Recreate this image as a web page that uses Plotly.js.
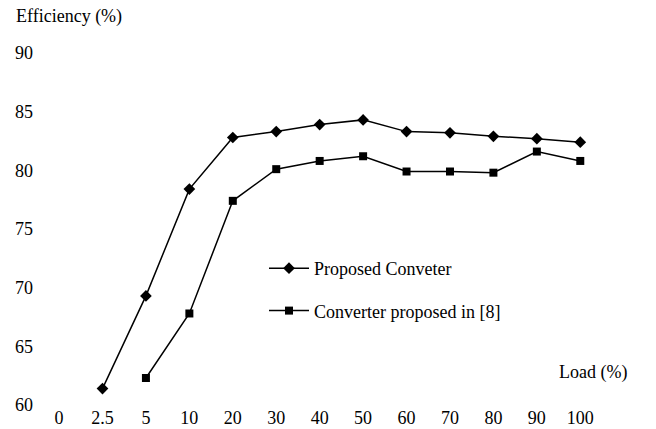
<!DOCTYPE html>
<html>
<head>
<meta charset="utf-8">
<script src="https://cdn.plot.ly/plotly-3.0.1.min.js"></script>
<style>
html,body{margin:0;padding:0;background:#fff;}
#chart{width:656px;height:429px;}
#chart svg text{font-family:"Liberation Serif","Times New Roman",serif !important;}
</style>
</head>
<body>
<div id="chart"></div>
<script>
const loadLabels = ['0','2.5','5','10','20','30','40','50','60','70','80','90','100'];
const proposedX = ['2.5','5','10','20','30','40','50','60','70','80','90','100'];
const proposedY = [61.4, 69.3, 78.4, 82.8, 83.3, 83.9, 84.3, 83.3, 83.2, 82.9, 82.7, 82.4];
const ref8X = ['5','10','20','30','40','50','60','70','80','90','100'];
const ref8Y = [62.3, 67.8, 77.4, 80.1, 80.8, 81.2, 79.9, 79.9, 79.8, 81.6, 80.8];
const yTicks = [60, 65, 70, 75, 80, 85, 90];

const FONT = '"Liberation Serif", "Times New Roman", serif';
const FS = 18;

const traces = [
  {x: proposedX, y: proposedY, name: 'Proposed Conveter', type: 'scatter', mode: 'lines+markers',
   line: {color: '#000', width: 1.5}, marker: {symbol: 'diamond', size: 9, color: '#000'}, legendgroup: 'a'},
  {x: ref8X, y: ref8Y, name: 'Converter proposed in [8]', type: 'scatter', mode: 'lines+markers',
   line: {color: '#000', width: 1.5}, marker: {symbol: 'square', size: 8, color: '#000'}, legendgroup: 'b'}
];

const L = 34, R = 54, T = 53, B = 24;
const W = 656 - L - R, H = 429 - T - B;

const layout = {
  width: 656, height: 429,
  margin: {l: L, r: R, t: T, b: B, pad: 0},
  paper_bgcolor: '#fff', plot_bgcolor: '#fff',
  font: {family: FONT, size: FS, color: '#000'},
  showlegend: true,
  legend: {x: (264 - L) / W, y: (405 - 250) / H, xanchor: 'left', yanchor: 'top',
           bgcolor: 'rgba(0,0,0,0)', font: {family: FONT, size: FS, color: '#000'},
           traceorder: 'grouped', tracegroupgap: 16, itemwidth: 40},
  xaxis: {type: 'category', categoryorder: 'array', categoryarray: loadLabels,
          tickvals: loadLabels, ticktext: loadLabels,
          range: [-0.577, 12.5], showgrid: false, zeroline: false, showline: false,
          ticks: '', tickfont: {family: FONT, size: FS, color: '#000'}},
  yaxis: {range: [60, 90], tickvals: yTicks, ticktext: yTicks.map(String),
          showgrid: false, zeroline: false, showline: false, ticks: '',
          tickfont: {family: FONT, size: FS, color: '#000'}},
  annotations: [
    {text: 'Efficiency (%)', xref: 'paper', yref: 'paper', x: (14 - L) / W, y: (405 - 17) / H,
     xanchor: 'left', yanchor: 'middle', showarrow: false, font: {family: FONT, size: FS, color: '#000'}},
    {text: 'Load (%)', xref: 'paper', yref: 'paper', x: (629 - L) / W, y: (405 - 372) / H,
     xanchor: 'right', yanchor: 'middle', showarrow: false, font: {family: FONT, size: FS, color: '#000'}}
  ]
};

Plotly.newPlot('chart', traces, layout, {displayModeBar: false, staticPlot: true});
</script>
</body>
</html>
